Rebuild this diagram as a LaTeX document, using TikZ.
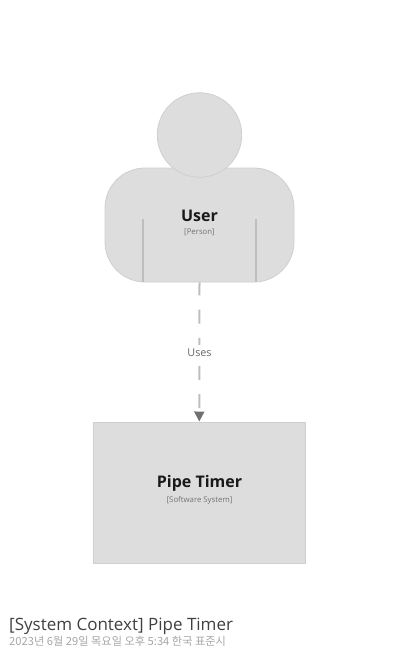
\documentclass[tikz,border=0pt]{standalone}
\usepackage{fontspec}
\usepackage{tikz}
\usetikzlibrary{arrows.meta}
\setmainfont{Open Sans}
\newfontfamily\cjk{Noto Sans CJK KR}
\definecolor{shapefill}{HTML}{DDDDDD}
\definecolor{shapeline}{HTML}{CFCFCF}
\definecolor{edgegray}{HTML}{BEBEBE}
\definecolor{tipgray}{HTML}{707070}
\tikzset{
    shapestyle/.style={draw=shapeline,fill=shapefill,line width=0.8pt},
    namestyle/.style={font=\fontsize{16}{18}\selectfont\bfseries,text=black!90},
    kindstyle/.style={font=\fontsize{7.8}{9}\selectfont,text=black!55}
}

\begin{document}
\begin{tikzpicture}[x=1pt,y=-1pt]
    \useasboundingbox (0,0) rectangle (400,658);
    % person
    \node[shapestyle,rounded corners=40pt,minimum width=189pt,minimum height=114pt,inner sep=0pt] (body) at (199.5,225) {};
    \node[shapestyle,circle,minimum size=84.5pt,inner sep=0pt] (head) at (199.5,135) {};
    \coordinate (armla) at (143,219);
    \coordinate (armlb) at (143,282);
    \coordinate (armra) at (255.7,219);
    \coordinate (armrb) at (255.7,282);
    \draw[edgegray,line width=1.6pt] (armla)--(armlb);
    \draw[edgegray,line width=1.6pt] (armra)--(armrb);
    \node[namestyle] (username) at (199.5,215.5) {User};
    \node[kindstyle] (userkind) at (199.5,232) {[Person]};
    % system
    \node[draw=shapeline,fill=shapefill,line width=0.5pt,minimum width=212pt,minimum height=141.5pt,inner sep=0pt] (system) at (199.3,492.5) {};
    \node[namestyle] (systemname) at (199.5,483.5) {Pipe Timer};
    \node[kindstyle] (systemkind) at (199.5,500) {[Software System]};
    % relation
    \draw[edgegray,line width=2pt,dash pattern=on 14pt off 14.2pt,dash phase=1pt,-{Triangle[length=10pt,width=10pt,color=tipgray]}] (body.south)--(system.north);
    \node[fill=white,inner sep=0pt,minimum height=16pt,font=\fontsize{10.8}{12}\selectfont,text=black!60] (uses) at (199.5,353) {Uses};
    % title
    \node[anchor=west,inner sep=0pt,font=\fontsize{17}{19}\selectfont,text=black!75] (title) at (9,626) {[System Context] Pipe Timer};
    \node[anchor=west,inner sep=0pt,font=\fontsize{11.2}{13}\selectfont\cjk,text=black!35] (stamp) at (9,641.5) {2023년 6월 29일 목요일 오후 5:34 한국 표준시};
\end{tikzpicture}
\end{document}
